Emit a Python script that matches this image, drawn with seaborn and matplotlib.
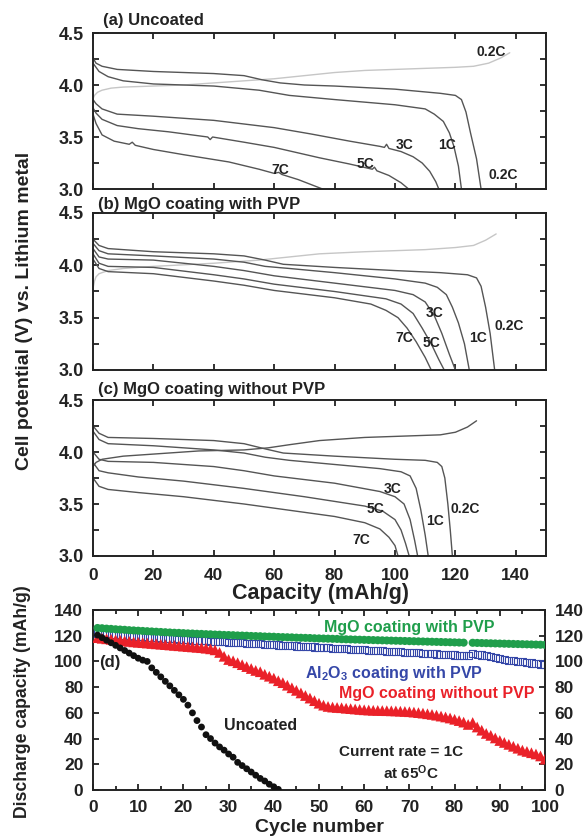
import matplotlib
matplotlib.use("Agg")
import numpy as np
import matplotlib.pyplot as plt
from matplotlib.ticker import MultipleLocator, FormatStrFormatter
import seaborn as sns

# ---------------- data: panels (a)-(c), voltage profiles ----------------
a_charge_cap = [0, 0.5, 1.5, 3, 6, 10, 20, 30, 40, 50, 60, 70, 80, 90, 100, 110, 120, 126, 131, 135, 138]
a_charge_v = [3.87, 3.90, 3.93, 3.95, 3.97, 3.98, 3.99, 4.00, 4.02, 4.04, 4.06, 4.09, 4.12, 4.14, 4.15, 4.16, 4.17, 4.18, 4.21, 4.26, 4.31]
a_02c_cap = [0, 1, 3, 8, 20, 40, 50, 56, 62, 70, 80, 100, 115, 120, 122, 123.5, 125, 127, 128.5]
a_02c_v = [4.26, 4.21, 4.18, 4.15, 4.13, 4.11, 4.09, 4.05, 4.02, 4.00, 3.99, 3.96, 3.92, 3.90, 3.86, 3.74, 3.54, 3.29, 3.00]
a_1c_cap = [0, 1, 2, 5, 10, 20, 40, 55, 65, 80, 100, 110, 113, 116, 118, 119.5, 121, 122]
a_1c_v = [4.21, 4.17, 4.13, 4.08, 4.04, 4.01, 3.99, 3.95, 3.90, 3.86, 3.81, 3.77, 3.72, 3.65, 3.54, 3.41, 3.22, 3.00]
a_3c_cap = [0, 1, 3, 8, 20, 40, 60, 72, 85, 95, 96.5, 97.2, 98, 102, 106, 109, 111.5, 113.5, 114.5]
a_3c_v = [3.86, 3.82, 3.77, 3.72, 3.70, 3.66, 3.59, 3.53, 3.46, 3.41, 3.40, 3.43, 3.39, 3.36, 3.31, 3.25, 3.17, 3.07, 3.00]
a_5c_cap = [0, 1, 3, 8, 15, 25, 38, 38.8, 39.6, 50, 60, 75, 85, 92.5, 93.2, 94, 98, 102, 104.5]
a_5c_v = [3.78, 3.73, 3.67, 3.61, 3.58, 3.55, 3.50, 3.475, 3.50, 3.45, 3.40, 3.30, 3.24, 3.19, 3.21, 3.175, 3.13, 3.06, 3.00]
a_7c_cap = [0, 1, 3, 7, 12, 13, 14, 20, 30, 45, 55, 60, 61.5, 62.5, 68, 76]
a_7c_v = [3.72, 3.63, 3.52, 3.46, 3.43, 3.45, 3.42, 3.38, 3.33, 3.26, 3.19, 3.15, 3.16, 3.14, 3.09, 3.00]

b_charge_cap = [0, 0.5, 1, 2, 5, 10, 20, 40, 55, 65, 75, 90, 110, 120, 126, 130, 133.5]
b_charge_v = [3.78, 3.85, 3.89, 3.92, 3.95, 3.97, 3.99, 4.02, 4.05, 4.08, 4.11, 4.13, 4.15, 4.17, 4.19, 4.24, 4.30]
b_02c_cap = [0, 2, 5, 20, 40, 50, 57, 63, 80, 100, 115, 124, 127, 128.5, 130, 131.5, 133]
b_02c_v = [4.25, 4.19, 4.16, 4.13, 4.11, 4.09, 4.05, 4.01, 3.98, 3.95, 3.93, 3.91, 3.88, 3.80, 3.60, 3.35, 3.00]
b_1c_cap = [0, 2, 5, 20, 40, 50, 57, 65, 80, 100, 110, 114, 117, 119, 121, 123, 124.6]
b_1c_v = [4.21, 4.14, 4.11, 4.09, 4.06, 4.03, 3.99, 3.97, 3.93, 3.87, 3.83, 3.79, 3.72, 3.60, 3.45, 3.25, 3.00]
b_3c_cap = [0, 2, 5, 20, 40, 50, 60, 80, 100, 106, 110, 113, 115.5, 118, 120]
b_3c_v = [4.16, 4.08, 4.06, 4.05, 3.99, 3.95, 3.90, 3.83, 3.76, 3.72, 3.65, 3.52, 3.35, 3.15, 3.00]
b_5c_cap = [0, 2, 5, 20, 40, 50, 60, 80, 97, 102, 106, 109, 112, 114.5, 116.3]
b_5c_v = [4.11, 4.02, 3.99, 3.98, 3.91, 3.87, 3.82, 3.75, 3.68, 3.63, 3.54, 3.40, 3.25, 3.10, 3.00]
b_7c_cap = [0, 2, 5, 20, 40, 50, 60, 80, 92, 97, 101, 104, 107, 110, 112]
b_7c_v = [4.06, 3.97, 3.94, 3.92, 3.85, 3.81, 3.76, 3.69, 3.63, 3.57, 3.50, 3.40, 3.27, 3.12, 3.00]

c_charge_cap = [0, 1, 3, 10, 20, 35, 50, 58, 65, 75, 90, 105, 115, 120, 124, 127]
c_charge_v = [3.86, 3.90, 3.93, 3.96, 3.98, 4.01, 4.02, 4.04, 4.07, 4.11, 4.14, 4.155, 4.165, 4.19, 4.24, 4.30]
c_02c_cap = [0, 2, 5, 20, 40, 50, 57, 63, 80, 100, 110, 114, 115.5, 116.5, 117.5, 118.3, 119]
c_02c_v = [4.25, 4.18, 4.14, 4.13, 4.11, 4.08, 4.03, 3.99, 3.96, 3.93, 3.92, 3.90, 3.86, 3.75, 3.50, 3.25, 3.00]
c_1c_cap = [0, 2, 5, 20, 40, 50, 57, 65, 80, 95, 102, 105, 107, 108.5, 110, 111]
c_1c_v = [4.20, 4.12, 4.08, 4.06, 4.02, 3.99, 3.95, 3.92, 3.88, 3.84, 3.81, 3.77, 3.65, 3.45, 3.20, 3.00]
c_3c_cap = [0, 2, 5, 20, 40, 50, 60, 80, 95, 100, 103, 105, 106.5, 107.5]
c_3c_v = [4.00, 3.93, 3.91, 3.90, 3.86, 3.82, 3.77, 3.70, 3.62, 3.57, 3.50, 3.35, 3.15, 3.00]
c_5c_cap = [0, 2, 5, 15, 30, 50, 70, 90, 96, 100, 102, 103.5, 104.7]
c_5c_v = [3.90, 3.82, 3.80, 3.76, 3.72, 3.65, 3.57, 3.48, 3.43, 3.35, 3.25, 3.12, 3.00]
c_7c_cap = [0, 2, 5, 15, 30, 50, 65, 80, 90, 95, 98, 100, 101]
c_7c_v = [3.75, 3.67, 3.64, 3.61, 3.57, 3.50, 3.44, 3.38, 3.32, 3.26, 3.18, 3.10, 3.00]

a_labels = [("0.2C", 131.7, 4.32), ("3C", 103.2, 3.42), ("1C", 117.3, 3.42),
            ("5C", 90.2, 3.24), ("0.2C", 135.7, 3.135), ("7C", 62.0, 3.18)]
b_labels = [("3C", 113.2, 3.54), ("0.2C", 137.8, 3.42), ("7C", 103.1, 3.31),
            ("5C", 112.0, 3.26), ("1C", 127.5, 3.31)]
c_labels = [("3C", 99.1, 3.64), ("5C", 93.6, 3.45), ("1C", 113.3, 3.34),
            ("0.2C", 123.1, 3.45), ("7C", 88.7, 3.15)]

# ---------------- data: panel (d), cycling ----------------
cycles = list(range(1, 101))
mgo_pvp = [126.0, 125.8, 125.5, 125.3, 125.0, 124.8, 124.6, 124.3, 124.1, 123.9,
           123.7, 123.5, 123.3, 123.1, 122.9, 122.7, 122.5, 122.3, 122.2, 122.0,
           121.8, 121.7, 121.5, 121.4, 121.2, 121.1, 120.9, 120.8, 120.6, 120.5,
           120.4, 120.2, 120.1, 120.0, 119.8, 119.7, 119.6, 119.4, 119.3, 119.2,
           119.0, 118.9, 118.8, 118.7, 118.5, 118.4, 118.3, 118.2, 118.0, 117.9,
           117.8, 117.7, 117.6, 117.5, 117.3, 117.2, 117.1, 117.0, 116.9, 116.8,
           116.7, 116.6, 116.5, 116.4, 116.3, 116.2, 116.1, 116.0, 115.9, 115.8,
           115.7, 115.6, 115.5, 115.4, 115.3, 115.2, 115.1, 115.0, 114.9, 114.8,
           114.7, 114.6, np.nan, 114.5, 114.4, 114.3, 114.2, 114.1, 114.0, 113.9,
           113.8, 113.7, 113.6, 113.5, 113.4, 113.3, 113.2, 113.1, 113.0, 112.9]
al2o3_pvp = [122.0, 121.7, 121.4, 121.1, 120.8, 120.5, 120.2, 119.9, 119.6, 119.4,
             119.1, 118.9, 118.6, 118.4, 118.2, 117.9, 117.7, 117.5, 117.2, 117.0,
             116.8, 116.6, 116.4, 116.2, 116.0, 115.8, 115.6, 115.4, 115.2, 115.0,
             114.8, 114.6, 114.4, 114.2, 114.0, 113.8, 113.6, 113.4, 113.2, 113.0,
             112.8, 112.6, 112.4, 112.2, 112.0, 111.8, 111.6, 111.4, 111.2, 111.0,
             110.8, 110.6, 110.4, 110.2, 110.0, 109.8, 109.6, 109.4, 109.2, 109.0,
             108.8, 108.6, 108.4, 108.2, 108.0, 107.8, 107.6, 107.4, 107.2, 107.0,
             106.8, 106.6, 106.4, 106.2, 106.0, 105.8, 105.6, 105.4, 105.2, 105.0,
             104.8, 104.6, 104.4, 106.0, 105.6, 105.0, 104.3, 103.5, 102.8, 102.2,
             101.6, 101.0, 100.5, 100.0, 99.6, 99.2, 98.8, 98.4, 98.0, 97.6]
mgo_no_pvp = [118.5, 118.0, 117.6, 117.2, 116.8, 116.4, 116.0, 115.6, 115.2, 114.9,
              114.6, 114.3, 114.0, 113.7, 113.4, 113.1, 112.8, 112.5, 112.2, 111.9,
              111.6, 111.3, 111.0, 110.7, 110.3, 109.8, 109.0, 107.0, 104.0, 101.5,
              100.5, 99.0, 97.5, 96.0, 94.5, 93.0, 92.0, 90.0, 88.5, 87.0,
              85.0, 83.5, 81.5, 79.5, 77.5, 75.5, 73.5, 71.5, 69.5, 67.5,
              66.0, 65.0, 64.5, 64.2, 64.0, 63.6, 63.3, 63.0, 62.7, 62.4,
              62.2, 62.0, 61.9, 61.8, 61.7, 61.6, 61.5, 61.3, 61.1, 60.9,
              60.6, 60.2, 59.8, 59.3, 58.8, 58.2, 57.5, 56.8, 56.0, 55.0,
              54.0, 52.8, 51.0, 52.5, 49.0, 46.5, 44.0, 42.5, 40.5, 38.5,
              37.0, 35.5, 34.0, 32.5, 31.0, 30.0, 29.0, 28.0, 26.5, 24.0]
uncoated_cycles = list(range(1, 42))
uncoated = [120.5, 118.5, 116.5, 114.5, 112.5, 110.5, 108.5, 106.5, 104.5, 102.5,
            101.0, 100.0, 95.0, 91.5, 88.0, 84.5, 81.0, 77.5, 74.0, 70.5,
            66.0, 60.0, 54.0, 49.0, 43.0, 40.0, 36.5, 33.5, 31.0, 28.0,
            25.5, 21.5, 19.0, 16.5, 14.0, 11.5, 9.0, 7.0, 4.5, 2.5, 0.5]

# ---------------- style ----------------
sns.set_theme(style="ticks")
plt.rcParams["font.family"] = ["Liberation Sans", "DejaVu Sans"]
plt.rcParams.update({
    "font.weight": "bold",
    "axes.labelweight": "bold",
    "mathtext.fontset": "custom",
    "mathtext.rm": "Liberation Sans:bold",
    "mathtext.it": "Liberation Sans:bold",
    "mathtext.bf": "Liberation Sans:bold",
    "mathtext.default": "rm",
    "axes.linewidth": 1.4,
    "axes.edgecolor": "#222222",
    "xtick.color": "#222222",
    "ytick.color": "#222222",
    "text.color": "#222222",
})

W, H = 584, 836
fig = plt.figure(figsize=(W / 100, H / 100), dpi=100)


def add_ax(l, t, r, b):
    return fig.add_axes([l / W, 1 - b / H, (r - l) / W, (b - t) / H])


DARK = "#555555"
LIGHT = "#c6c6c6"
GREEN = "#1f9e4b"
BLUE = "#3547a8"
RED = "#ea2129"

ax_a = add_ax(93, 33, 546, 189)
ax_b = add_ax(93, 213, 546, 370)
ax_c = add_ax(93, 400, 546, 556)
ax_d = add_ax(93, 610, 545, 790)

curve_sets = [
    (ax_a, [(a_charge_cap, a_charge_v, LIGHT), (a_02c_cap, a_02c_v, DARK), (a_1c_cap, a_1c_v, DARK),
            (a_3c_cap, a_3c_v, DARK), (a_5c_cap, a_5c_v, DARK), (a_7c_cap, a_7c_v, DARK)], a_labels),
    (ax_b, [(b_charge_cap, b_charge_v, LIGHT), (b_02c_cap, b_02c_v, DARK), (b_1c_cap, b_1c_v, DARK),
            (b_3c_cap, b_3c_v, DARK), (b_5c_cap, b_5c_v, DARK), (b_7c_cap, b_7c_v, DARK)], b_labels),
    (ax_c, [(c_charge_cap, c_charge_v, DARK), (c_02c_cap, c_02c_v, DARK), (c_1c_cap, c_1c_v, DARK),
            (c_3c_cap, c_3c_v, DARK), (c_5c_cap, c_5c_v, DARK), (c_7c_cap, c_7c_v, DARK)], c_labels),
]

for ax, curves, labels in curve_sets:
    for cap, v, col in curves:
        sns.lineplot(x=np.array(cap), y=np.array(v), ax=ax, sort=False, estimator=None,
                     color=col, linewidth=1.0)
    for txt, xx, yy in labels:
        ax.text(xx, yy, txt, fontsize=10, fontweight="bold", ha="center", va="center", color="#222222")
    ax.set_xlim(0, 150)
    ax.set_ylim(3.0, 4.5)
    ax.yaxis.set_major_locator(MultipleLocator(0.5))
    ax.yaxis.set_minor_locator(MultipleLocator(0.25))
    ax.yaxis.set_major_formatter(FormatStrFormatter("%.1f"))
    ax.set_xticks(np.arange(0, 141, 20))
    ax.tick_params(which="both", direction="in", top=True, right=True, length=4.5, width=1.3)
    ax.tick_params(axis="y", labelsize=13, pad=6.5)
    ax.tick_params(axis="x", labelsize=12.5, pad=8.5)
    ax.set_xlabel("")
    ax.set_ylabel("")
    if ax is not ax_c:
        ax.tick_params(axis="x", labelbottom=False)

# panel (d)
sns.scatterplot(x=cycles, y=al2o3_pvp, ax=ax_d, marker="s", s=26, color=BLUE,
                facecolors="none", edgecolor=BLUE, linewidth=0.8, zorder=2)
sns.scatterplot(x=cycles, y=mgo_pvp, ax=ax_d, marker="o", s=34, color=GREEN,
                edgecolor="none", linewidth=0, zorder=3)
sns.scatterplot(x=cycles, y=mgo_no_pvp, ax=ax_d, marker="^", s=60, color=RED,
                edgecolor="none", linewidth=0, zorder=4)
sns.scatterplot(x=uncoated_cycles, y=uncoated, ax=ax_d, marker="o", s=24, color="#111111",
                edgecolor="none", linewidth=0, zorder=5)
ax_d.set_xlim(0, 100)
ax_d.set_ylim(0, 140)
ax_d.xaxis.set_major_locator(MultipleLocator(10))
ax_d.xaxis.set_minor_locator(MultipleLocator(5))
ax_d.yaxis.set_major_locator(MultipleLocator(20))
ax_d.tick_params(which="both", direction="in", top=True, right=True, width=1.3)
ax_d.tick_params(which="major", length=4.5)
ax_d.tick_params(which="minor", length=3)
ax_d.tick_params(axis="y", labelsize=12.5, pad=7, labelright=True)
ax_d.tick_params(axis="x", labelsize=12.5, pad=7.5)
ax_d.set_xlabel("")
ax_d.set_ylabel("")

ax_d.text(70.0, 122.6, "MgO coating with PVP", color=GREEN, fontsize=11.5, fontweight="bold",
          ha="center", va="baseline")
ax_d.text(66.5, 87.4, r"Al$_2$O$_3$ coating with PVP", color=BLUE, fontsize=11.5, fontweight="bold",
          ha="center", va="baseline")
ax_d.text(76.0, 71.6, "MgO coating without PVP", color=RED, fontsize=11.5, fontweight="bold",
          ha="center", va="baseline")
ax_d.text(37.0, 46.5, "Uncoated", color="#222222", fontsize=11.5, fontweight="bold",
          ha="center", va="baseline")
ax_d.text(3.8, 96.0, "(d)", color="#222222", fontsize=12, fontweight="bold",
          ha="center", va="baseline")
ax_d.text(68.2, 26.4, "Current rate = 1C", color="#222222", fontsize=11, fontweight="bold",
          ha="center", va="baseline")
ax_d.text(70.3, 8.3, r"at 65$^{\mathrm{O}}$C", color="#222222", fontsize=11, fontweight="bold",
          ha="center", va="baseline")

# titles and axis labels
fig.text(103 / W, 1 - 20 / H, "(a) Uncoated", fontsize=12, fontweight="bold", va="center", ha="left")
fig.text(98 / W, 1 - 204 / H, "(b) MgO coating with PVP", fontsize=12, fontweight="bold", va="center", ha="left")
fig.text(98 / W, 1 - 390 / H, "(c) MgO coating without PVP", fontsize=12, fontweight="bold", va="center", ha="left")
fig.text(320 / W, 1 - 593 / H, "Capacity (mAh/g)", fontsize=15.5, fontweight="bold", ha="center", va="center")
fig.text(319 / W, 1 - 828 / H, "Cycle number", fontsize=14, fontweight="bold", ha="center", va="center")
fig.text(25 / W, 1 - 310.5 / H, "Cell potential (V) vs. Lithium metal", fontsize=14, fontweight="bold",
         rotation=90, ha="center", va="center")
fig.text(23 / W, 1 - 701.5 / H, "Discharge capacity (mAh/g)", fontsize=12.7, fontweight="bold",
         rotation=90, ha="center", va="center")

fig.savefig("out.png", dpi=100)
